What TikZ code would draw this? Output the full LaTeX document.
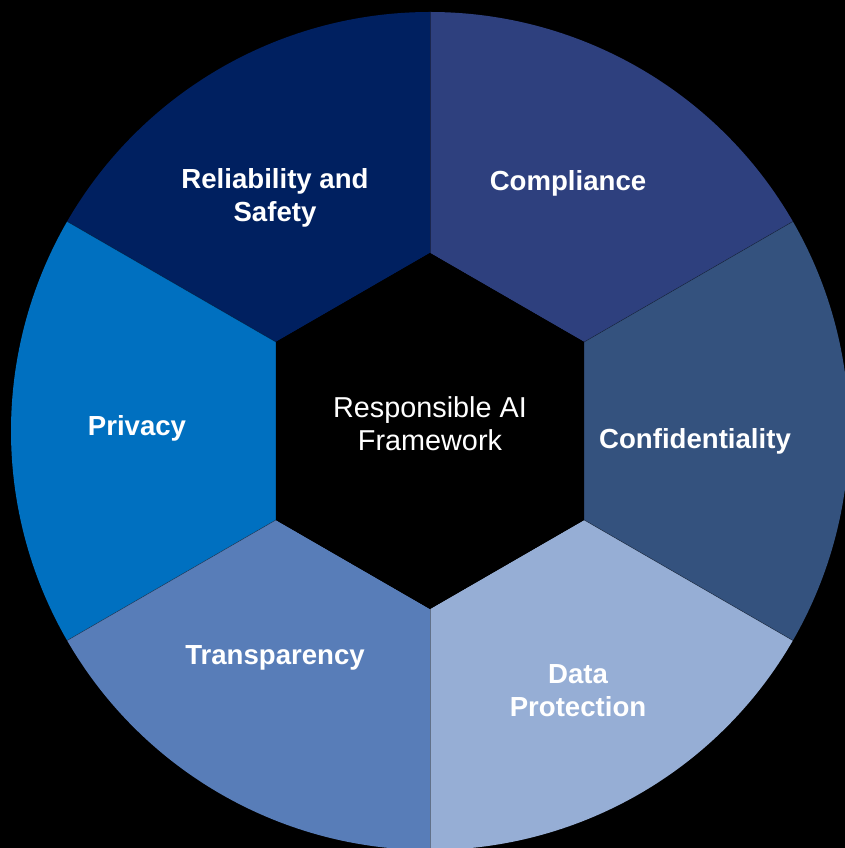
\documentclass[tikz,border=0pt]{standalone}
\usepackage{fontspec}
\setmainfont{Liberation Sans}
\definecolor{relcol}{RGB}{0,32,96}
\definecolor{comcol}{RGB}{46,64,126}
\definecolor{concol}{RGB}{52,82,126}
\definecolor{pricol}{RGB}{0,112,192}
\definecolor{tracol}{RGB}{88,125,184}
\definecolor{datcol}{RGB}{150,174,213}
\tikzset{
  seclabel/.style={text=white, font=\fontsize{27.6}{33}\selectfont\bfseries, align=center},
  hublabel/.style={text=white, font=\fontsize{28.8}{33}\selectfont, align=center},
  seam/.style={draw=black, draw opacity=.35, line width=.6pt}
}
\begin{document}
\begin{tikzpicture}[x=1pt, y=1pt, line join=round]
		\def\R{419} \def\r{178} % radii
		\fill[black] (-430,-417) rectangle (415,431);
		\useasboundingbox (-430,-417) rectangle (415,431);
		\begin{scope}
		\clip (-430,-417) rectangle (415,431);
		\foreach \a/\col in {30/comcol, 90/relcol, 150/pricol, 210/tracol, 270/datcol, 330/concol}{
			\fill[\col] (\a:\r) -- (\a:\R) arc (\a:\a+60:\R) -- (\a+60:\r) -- cycle;
		}
		\foreach \a in {30,90,...,330}{
			\draw[seam] (\a:\r) -- (\a:\R);
		}
		\end{scope}
		\fill[black] (30:\r) \foreach \a in {90,150,...,330}{ -- (\a:\r)} -- cycle;
		\node[hublabel] (hub) at (0,7) {Responsible AI\\Framework};
		\node[seclabel] (rel) at (-155,233) {Reliability and\\Safety};
		\node[seclabel] (com) at (138,248) {Compliance};
		\node[seclabel] (pri) at (-293,3) {Privacy};
		\node[seclabel] (con) at (265,-10) {Confidentiality};
		\node[seclabel] (tra) at (-155,-227) {Transparency};
		\node[seclabel] (dat) at (148,-260) {Data\\Protection};
	\end{tikzpicture}
\end{document}
